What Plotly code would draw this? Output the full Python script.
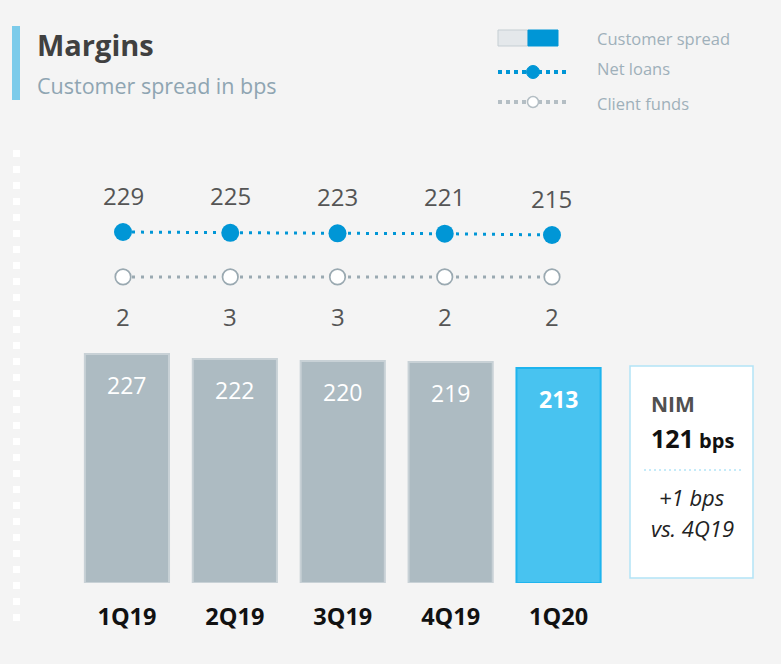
import plotly.graph_objects as go

# ---------------- data ----------------
quarters = ["1Q19", "2Q19", "3Q19", "4Q19", "1Q20"]
customer_spread = [227, 222, 220, 219, 213]
net_loans = [229, 225, 223, 221, 215]
client_funds = [2, 3, 3, 2, 2]
nim_value = 121
nim_change_text = "+1 bps"
nim_compare_text = "vs. 4Q19"

# ---------------- style ----------------
W, H = 781, 664
BG = "#f4f4f4"
FONT = "Open Sans"
GRAY_BAR = "#adbbc2"
GRAY_EDGE = "#c8d1d6"
BLUE_BAR = "#48c3f0"
BLUE_EDGE = "#1eb4ee"
BLUE = "#0096d6"
CF_GRAY = "#9aa9b1"
LBL = "#555555"
CLIENT_ROW = 19.0  # fixed row level for the client funds line on y2


def px_x(p):
    return p / W


def px_y(p):
    return 1 - p / H


fig = go.Figure()

bar_colors = [GRAY_BAR] * (len(quarters) - 1) + [BLUE_BAR]
edge_colors = [GRAY_EDGE] * (len(quarters) - 1) + [BLUE_EDGE]

fig.add_trace(go.Bar(
    x=quarters, y=customer_spread,
    marker=dict(color=bar_colors, line=dict(color=edge_colors, width=2)),
    width=0.78, xaxis="x", yaxis="y", showlegend=False, hoverinfo="x+y",
))

fig.add_trace(go.Scatter(
    x=quarters, y=[CLIENT_ROW] * len(quarters),
    mode="lines+markers", xaxis="x2", yaxis="y2",
    line=dict(color=CF_GRAY, width=3, dash="3px,6px"),
    marker=dict(size=15.5, color="white", line=dict(color=CF_GRAY, width=1.7)),
    showlegend=False, customdata=client_funds, hovertemplate="%{customdata}<extra></extra>",
))

fig.add_trace(go.Scatter(
    x=quarters, y=net_loans,
    mode="lines+markers", xaxis="x2", yaxis="y2",
    line=dict(color=BLUE, width=3, dash="3px,6px"),
    marker=dict(size=18, color=BLUE),
    showlegend=False,
))

annotations = []
# bar value labels
for i, (q, v) in enumerate(zip(quarters, customer_spread)):
    last = i == len(quarters) - 1
    annotations.append(dict(
        x=q, y=v, xref="x", yref="y", text=f"<b>{v}</b>" if last else str(v),
        showarrow=False, yanchor="middle", yshift=-31,
        font=dict(family=FONT, size=23, color="white"),
    ))
# net loans labels
for q, v in zip(quarters, net_loans):
    annotations.append(dict(
        x=q, y=v, xref="x2", yref="y2", text=str(v), showarrow=False,
        yanchor="middle", yshift=37, font=dict(family=FONT, size=24, color=LBL),
    ))
# client funds labels
for q, v in zip(quarters, client_funds):
    annotations.append(dict(
        x=q, y=CLIENT_ROW, xref="x2", yref="y2", text=str(v), showarrow=False,
        yanchor="middle", yshift=-40, font=dict(family=FONT, size=24, color=LBL),
    ))

# title
annotations.append(dict(x=px_x(35), y=px_y(44), xref="paper", yref="paper", text="<b>Margins</b>",
                        showarrow=False, xanchor="left", yanchor="middle",
                        font=dict(family=FONT, size=29, color="#404040")))
annotations.append(dict(x=px_x(35), y=px_y(85), xref="paper", yref="paper", text="Customer spread in bps",
                        showarrow=False, xanchor="left", yanchor="middle",
                        font=dict(family=FONT, size=21.5, color="#8fa5b2")))
# legend texts
for txt, yy in [("Customer spread", 39), ("Net loans", 69), ("Client funds", 103)]:
    annotations.append(dict(x=px_x(595), y=px_y(yy), xref="paper", yref="paper", text=txt,
                            showarrow=False, xanchor="left", yanchor="middle",
                            font=dict(family=FONT, size=16.5, color="#9fb0ba")))
# NIM box texts
annotations.append(dict(x=px_x(649), y=px_y(404), xref="paper", yref="paper", text="<b>NIM</b>",
                        showarrow=False, xanchor="left", yanchor="middle",
                        font=dict(family=FONT, size=21, color="#505050")))
annotations.append(dict(x=px_x(649), y=px_y(438), xref="paper", yref="paper",
                        text=f"<b><span style='font-size:25px'>{nim_value}</span> bps</b>",
                        showarrow=False, xanchor="left", yanchor="middle",
                        font=dict(family=FONT, size=20, color="#111111")))
annotations.append(dict(x=px_x(692), y=px_y(497), xref="paper", yref="paper", text=f"<i>{nim_change_text}</i>",
                        showarrow=False, xanchor="center", yanchor="middle",
                        font=dict(family=FONT, size=22, color="#222222")))
annotations.append(dict(x=px_x(692), y=px_y(528), xref="paper", yref="paper", text=f"<i>{nim_compare_text}</i>",
                        showarrow=False, xanchor="center", yanchor="middle",
                        font=dict(family=FONT, size=22, color="#222222")))

shapes = [
    # title accent bar
    dict(type="rect", xref="paper", yref="paper", x0=px_x(12), x1=px_x(20), y0=px_y(100), y1=px_y(26),
         fillcolor="#7ccbea", line=dict(width=0), layer="above"),
    # left dashed strip
    dict(type="line", xref="paper", yref="paper", x0=px_x(16.5), x1=px_x(16.5), y0=px_y(150), y1=px_y(621),
         line=dict(color="white", width=7, dash="7px,9px")),
    # legend: customer spread swatch
    dict(type="rect", xref="paper", yref="paper", x0=px_x(498), x1=px_x(528), y0=px_y(46), y1=px_y(30),
         fillcolor="#e4e8eb", line=dict(color="#c5ced3", width=1)),
    dict(type="rect", xref="paper", yref="paper", x0=px_x(528), x1=px_x(558), y0=px_y(46), y1=px_y(30),
         fillcolor=BLUE, line=dict(color=BLUE, width=1)),
    # legend: net loans
    dict(type="line", xref="paper", yref="paper", x0=px_x(498), x1=px_x(570), y0=px_y(72), y1=px_y(72),
         line=dict(color=BLUE, width=4, dash="4px,4px")),
    dict(type="circle", xref="paper", yref="paper", x0=px_x(526.5), x1=px_x(539.5), y0=px_y(78.5), y1=px_y(65.5),
         fillcolor=BLUE, line=dict(color=BLUE, width=1)),
    # legend: client funds
    dict(type="line", xref="paper", yref="paper", x0=px_x(498), x1=px_x(570), y0=px_y(102), y1=px_y(102),
         line=dict(color="#b4bec4", width=4, dash="4px,4px")),
    dict(type="circle", xref="paper", yref="paper", x0=px_x(527.5), x1=px_x(538.5), y0=px_y(107.5), y1=px_y(96.5),
         fillcolor="white", line=dict(color="#b4bec4", width=1.5)),
    # NIM box
    dict(type="rect", xref="paper", yref="paper", x0=px_x(630), x1=px_x(753), y0=px_y(578), y1=px_y(366),
         fillcolor="white", line=dict(color="#b3e3f6", width=1.5), layer="below"),
    dict(type="line", xref="paper", yref="paper", x0=px_x(644), x1=px_x(743), y0=px_y(470), y1=px_y(470),
         line=dict(color="#c5ebf9", width=2, dash="2px,3px")),
]

# bar y axis: 0 at pixel 583, ~1.009 px per bps
bar_bottom = 583
bar_px_per = 1.009
bar_top_val = 300
y_dom = [px_y(bar_bottom), px_y(bar_bottom - bar_top_val * bar_px_per)]

# lines y axis: 229 -> pixel 232, 0.214 px per bps
ln_top_px, ln_bot_px = 150, 300
ln_px_per = 0.214
ref_v, ref_px = 229, 232
y2_range = [ref_v - (ln_bot_px - ref_px) / ln_px_per, ref_v + (ref_px - ln_top_px) / ln_px_per]

fig.update_layout(
    width=W, height=H, margin=dict(l=0, r=0, t=0, b=0),
    paper_bgcolor=BG, plot_bgcolor="rgba(0,0,0,0)",
    font=dict(family=FONT),
    xaxis=dict(domain=[px_x(73), px_x(612.5)], range=[-0.5, 4.5], type="category",
               showgrid=False, zeroline=False, showline=False, ticks="",
               tickfont=dict(family=FONT, size=23.5, color="#111111"),
               ticklabelstandoff=17, anchor="y", fixedrange=True,
               tickvals=quarters, ticktext=[f"<b>{q}</b>" for q in quarters]),
    yaxis=dict(domain=y_dom, range=[0, bar_top_val], visible=False, fixedrange=True),
    xaxis2=dict(domain=[px_x(69.4), px_x(605.6)], range=[-0.5, 4.5], type="category",
                visible=False, anchor="y2", fixedrange=True),
    yaxis2=dict(domain=[px_y(ln_bot_px), px_y(ln_top_px)], range=y2_range, visible=False,
                anchor="x2", fixedrange=True),
    annotations=annotations, shapes=shapes, showlegend=False,
)

fig.write_html(
    "out.html",
    config={"displayModeBar": False},
    post_script="document.body.style.margin='0';document.body.style.overflow='hidden';",
)
